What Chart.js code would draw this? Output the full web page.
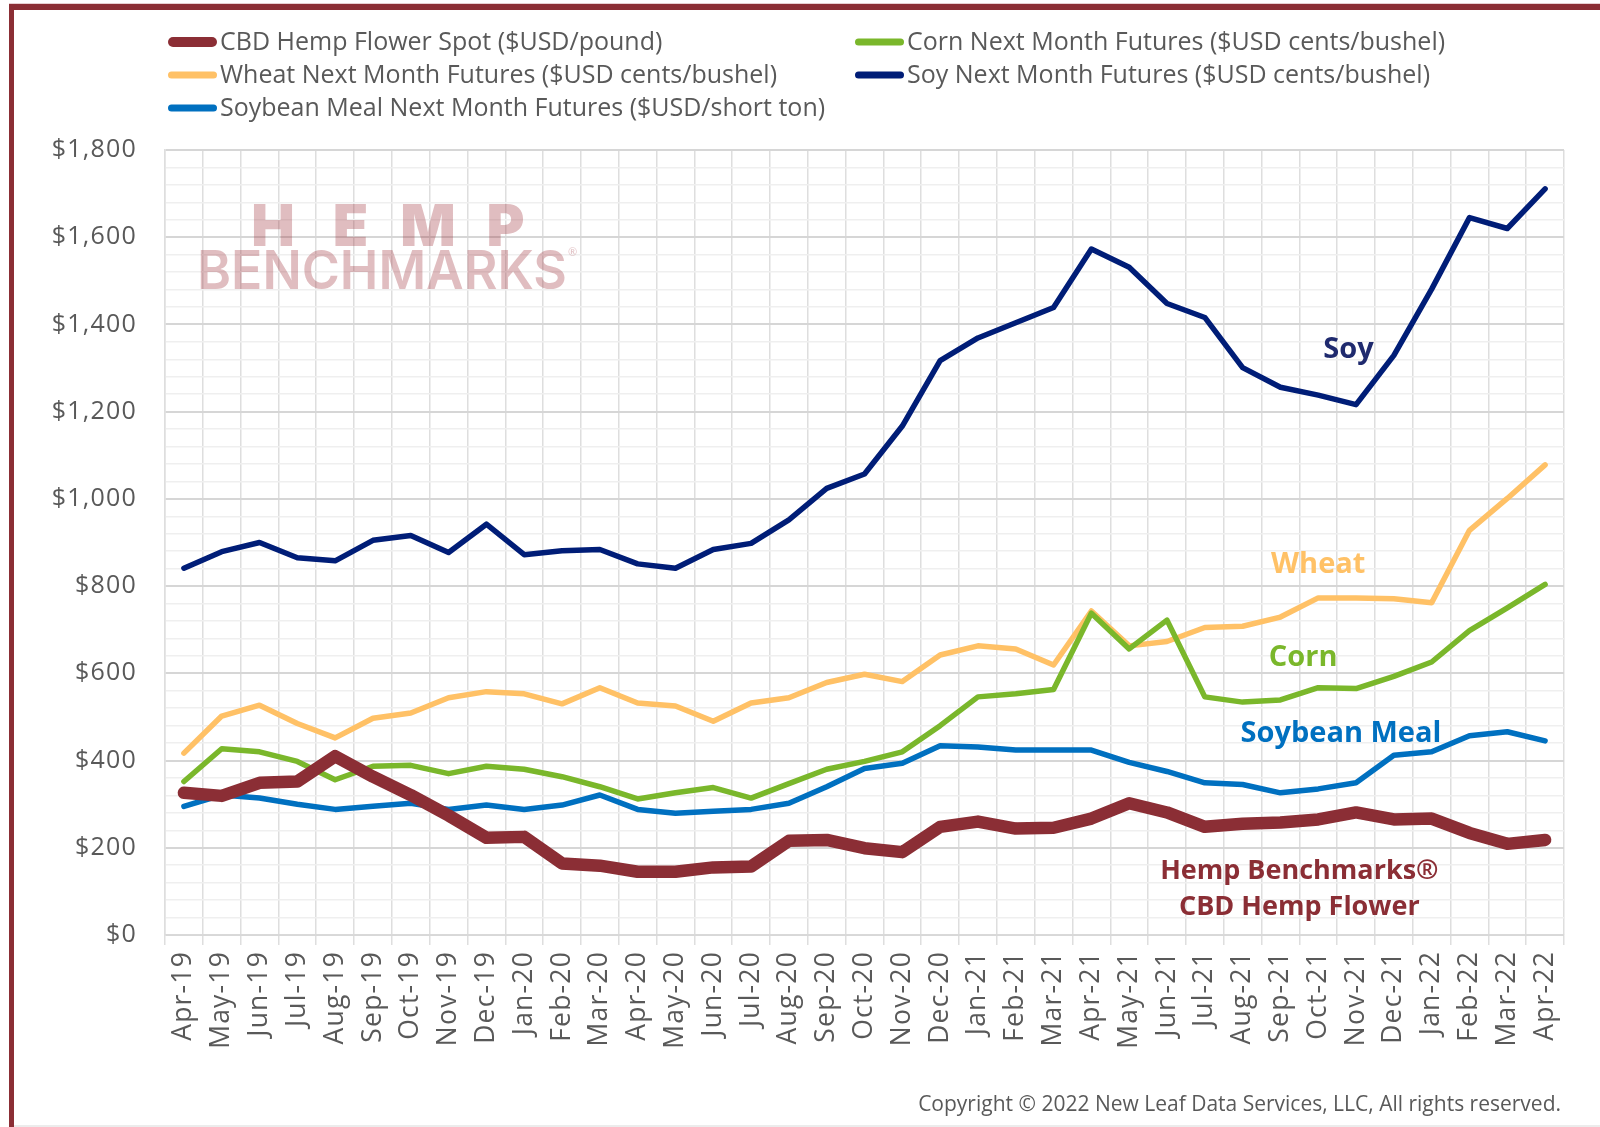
<!DOCTYPE html>
<html><head><meta charset="utf-8">
<script src="https://cdn.jsdelivr.net/npm/chart.js@4/dist/chart.umd.min.js"></script>
<style>html,body{margin:0;padding:0;background:#fff;}canvas{display:block;}</style>
</head><body>
<canvas id="c" width="1600" height="1127"></canvas>
<script>
// ---------- data ----------
const months = ['Apr-19','May-19','Jun-19','Jul-19','Aug-19','Sep-19','Oct-19','Nov-19','Dec-19',
  'Jan-20','Feb-20','Mar-20','Apr-20','May-20','Jun-20','Jul-20','Aug-20','Sep-20','Oct-20','Nov-20','Dec-20',
  'Jan-21','Feb-21','Mar-21','Apr-21','May-21','Jun-21','Jul-21','Aug-21','Sep-21','Oct-21','Nov-21','Dec-21',
  'Jan-22','Feb-22','Mar-22','Apr-22'];
const cbdHemp = [326,319,349,352,410,363,321,274,223,225,164,159,145,145,155,157,216,218,199,190,248,
  260,244,246,267,302,281,248,255,258,265,281,265,267,234,209,218];
const corn = [352,427,420,398,356,387,389,370,387,380,363,340,312,326,338,314,347,380,398,420,480,
  546,553,563,738,656,722,546,534,539,567,565,593,626,698,750,804];
const wheat = [417,502,527,485,452,497,509,544,558,553,530,567,532,525,490,532,544,579,598,581,642,
  663,656,619,743,663,673,705,708,729,773,773,771,762,928,1001,1078];
const soy = [841,879,900,865,858,905,916,877,942,872,881,884,851,841,884,898,952,1024,1057,1167,1317,
  1369,1404,1439,1573,1531,1448,1416,1301,1256,1238,1216,1329,1481,1645,1620,1711];
const soybeanMeal = [295,321,314,300,288,295,302,288,298,288,298,321,288,279,284,288,302,340,382,394,434,
  431,424,424,424,396,375,349,345,326,335,349,412,420,457,466,445];
const seriesLabels = ['CBD Hemp Flower Spot ($USD/pound)','Corn Next Month Futures ($USD cents/bushel)',
  'Wheat Next Month Futures ($USD cents/bushel)','Soy Next Month Futures ($USD cents/bushel)',
  'Soybean Meal Next Month Futures ($USD/short ton)'];
const yMin = 0, yMax = 1800, yMajorStep = 200, yMinorStep = 40;

// ---------- styles ----------
const FONT = "'Open Sans', 'DejaVu Sans', sans-serif";
const GRAY = '#595959';
const colors = ['#8B2E35','#7AB72B','#FFC166','#001D77','#0070C0'];
const widths = [12.5,5.5,5.5,5.5,5.5];
const legendSlots = [{x:168,y:42,w:10},{x:855,y:42,w:7},{x:168,y:75,w:7},{x:855,y:75,w:7},{x:168,y:108,w:7}];
const notes = [
  {text:'Soy', x:30.8, y:1341, color:'#1F2A6E', size:29},
  {text:'Wheat', x:30.0, y:848, color:'#FFC166', size:29},
  {text:'Corn', x:29.6, y:635, color:'#7AB72B', size:29},
  {text:'Soybean Meal', x:30.6, y:462, color:'#0070C0', size:29},
  {text:'Hemp Benchmarks\u00AE', x:29.5, y:145, color:'#8B2E35', size:27},
  {text:'CBD Hemp Flower', x:29.5, y:63, color:'#8B2E35', size:27}
];

const dataArrays = [cbdHemp, corn, wheat, soy, soybeanMeal];
const datasets = dataArrays.map((d,i)=>({
  label: seriesLabels[i], data: d, borderColor: colors[i], backgroundColor: colors[i],
  borderWidth: widths[i], pointRadius: 0, tension: 0, fill: false,
  borderJoinStyle: 'round', borderCapStyle: 'round'
}));

const framePlugin = {
  id: 'frame',
  beforeDraw(chart){
    const c = chart.ctx;
    c.save(); c.fillStyle = '#fff'; c.fillRect(0,0,chart.width,chart.height); c.restore();
    c.letterSpacing = '1.2px';
  },
  beforeDatasetsDraw(chart){
    const c = chart.ctx;
    c.letterSpacing = '0px';
    c.save();
    c.fillStyle = 'rgba(160,50,60,0.32)';
    c.textBaseline = 'alphabetic'; c.textAlign = 'center';
    c.font = "900 58px Inter, Lato, 'Open Sans', sans-serif";
    const letters = ['H','E','M','P'];
    letters.forEach((L,i)=> c.fillText(L, 273 + i*77.5, 246));
    c.font = "600 54px Inter, Lato, 'Open Sans', sans-serif";
    c.textAlign = 'left';
    const t = 'BENCHMARKS';
    const w = c.measureText(t).width;
    c.save(); c.translate(197, 289); c.scale(370/w, 1); c.fillText(t, 0, 0); c.restore();
    c.font = "11px Lato, sans-serif"; c.fillText('\u00AE', 568, 256);
    c.restore();
  },
  afterDatasetsDraw(chart){
    const c = chart.ctx, xs = chart.scales.x, ys = chart.scales.y;
    c.save();
    c.textAlign = 'center'; c.textBaseline = 'middle';
    notes.forEach(n=>{
      c.font = "bold " + n.size + "px " + FONT;
      c.fillStyle = n.color;
      c.fillText(n.text, xs.getPixelForValue(n.x), ys.getPixelForValue(n.y));
    });
    c.restore();
  },
  afterDraw(chart){
    const c = chart.ctx;
    c.save();
    c.letterSpacing = '0px';
    // legend
    c.font = "25px " + FONT; c.textBaseline = 'middle'; c.textAlign = 'left';
    chart.data.datasets.forEach((ds,i)=>{
      const s = legendSlots[i];
      c.strokeStyle = ds.borderColor; c.lineWidth = s.w; c.lineCap = 'round';
      c.beginPath(); c.moveTo(s.x + s.w/2, s.y); c.lineTo(s.x + 49 - s.w/2, s.y); c.stroke();
      c.fillStyle = GRAY;
      c.fillText(ds.label, s.x + 52, s.y + 1);
    });
    // copyright
    c.font = "21px " + FONT; c.textAlign = 'right'; c.fillStyle = GRAY;
    c.fillText('Copyright \u00A9 2022 New Leaf Data Services, LLC, All rights reserved.', 1561, 1105);
    // frame
    c.fillStyle = '#e8d0d2'; c.fillRect(9,3,1591,1);
    c.fillStyle = '#8B2E35';
    c.fillRect(9,4,1591,6);
    c.fillRect(9,4,5,1123);
    c.fillStyle = '#ececec'; c.fillRect(14,1125,1586,2);
    c.restore();
  }
};

new Chart(document.getElementById('c'), {
  type: 'line',
  data: { labels: months, datasets },
  options: {
    responsive: false, animation: false, devicePixelRatio: 1,
    layout: { padding: { top: 150, right: 36, bottom: 0, left: 0 } },
    plugins: { legend: { display: false }, tooltip: { enabled: false }, title: { display: false } },
    scales: {
      x: {
        type: 'category', offset: true,
        grid: { offset: true, color: '#dedede', lineWidth: 1.5, drawTicks: true, tickLength: 10 },
        border: { display: true, color: '#d9d9d9', width: 1.5 },
        ticks: { autoSkip: false, maxRotation: 90, minRotation: 90, padding: 6,
          color: GRAY, font: { family: FONT, size: 26.5 } },
        afterFit(scale){ scale.height = 192; }
      },
      y: {
        min: yMin, max: yMax,
        grid: { drawTicks: false,
          color: ctx => (ctx.tick && ctx.tick.value % yMajorStep === 0) ? '#d6d6d6' : '#efefef',
          lineWidth: ctx => (ctx.tick && ctx.tick.value % yMajorStep === 0) ? 2 : 1.5 },
        border: { display: true, color: '#dedede', width: 1.5 },
        ticks: { stepSize: yMinorStep, autoSkip: false, padding: 28, color: GRAY,
          font: { family: FONT, size: 25 },
          callback: v => (v % yMajorStep === 0) ? '$' + v.toLocaleString('en-US') : '' },
        afterFit(scale){ scale.width = 165; }
      }
    }
  },
  plugins: [framePlugin]
});
</script>
</body></html>
